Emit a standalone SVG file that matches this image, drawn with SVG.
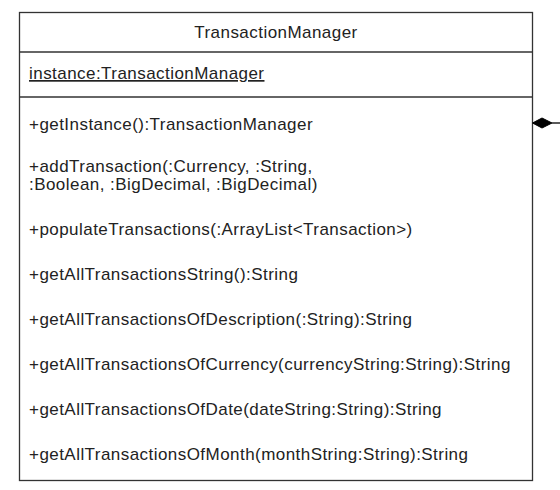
<svg xmlns="http://www.w3.org/2000/svg" width="560" height="490" viewBox="0 0 560 490">
<style>
.box{fill:#fff;stroke:#333;stroke-width:1.3}
.div{stroke:#333;stroke-width:1.3}
.t{font-family:"Liberation Sans",Arial,sans-serif;font-size:17px;fill:#222;letter-spacing:0.45px}
.c{text-anchor:middle}
.u{text-decoration:underline}
.edge{stroke:#000;stroke-width:1.3;fill:none}
</style>
<rect width="560" height="490" fill="#fff"/>
<g id="TransactionManager">
<rect class="box" x="19.5" y="12.5" width="513" height="468"/>
<line class="div" x1="19.5" y1="52" x2="532.5" y2="52"/>
<line class="div" x1="19.5" y1="97" x2="532.5" y2="97"/>
<text class="t c" x="276" y="38">TransactionManager</text>
<text class="t u" x="29" y="79">instance:TransactionManager</text>
<text class="t" x="29" y="130">+getInstance():TransactionManager</text>
<text class="t" x="29" y="172">+addTransaction(:Currency, :String,</text>
<text class="t" x="29" y="190">:Boolean, :BigDecimal, :BigDecimal)</text>
<text class="t" x="29" y="235">+populateTransactions(:ArrayList&lt;Transaction&gt;)</text>
<text class="t" x="29" y="280">+getAllTransactionsString():String</text>
<text class="t" x="29" y="325">+getAllTransactionsOfDescription(:String):String</text>
<text class="t" x="29" y="370">+getAllTransactionsOfCurrency(currencyString:String):String</text>
<text class="t" x="29" y="415">+getAllTransactionsOfDate(dateString:String):String</text>
<text class="t" x="29" y="460">+getAllTransactionsOfMonth(monthString:String):String</text>
</g>
<g id="connectors">
<line class="edge" x1="552" y1="123" x2="560" y2="123"/>
<polygon points="532.5,123 542,118 552,123 542,128" fill="#000" stroke="#000"/>
</g>
</svg>
